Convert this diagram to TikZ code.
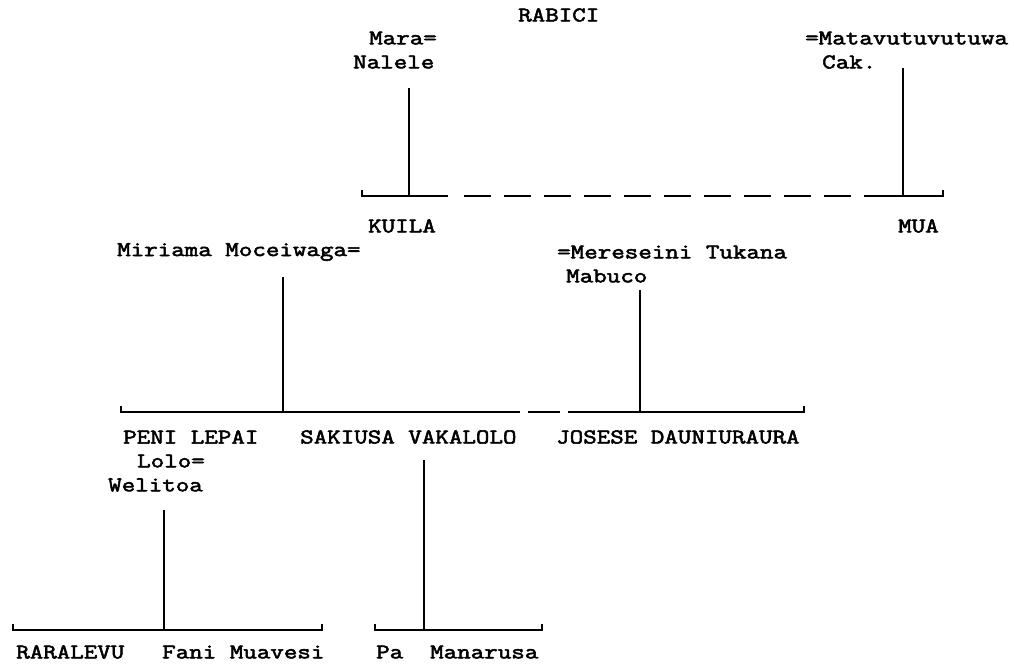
\documentclass[tikz,border=0pt]{standalone}
\usepackage{fontspec}
\newfontfamily\typewriter{Latin Modern Mono}[FakeStretch=1.25,FakeBold=2.6]
\begin{document}
\begin{tikzpicture}[x=1pt,y=-1pt,
  person/.style={anchor=west,inner sep=0pt,font=\typewriter\fontsize{21}{24}\selectfont},
  descent/.style={line width=2.8pt},
  sibline/.style={line width=2.3pt},
  halfline/.style={line width=2.3pt,dash pattern=on 27pt off 13pt}]
\useasboundingbox (0,0) rectangle (1014,667);

% --- generation 1
\node[person] (rabici) at (518,15) {RABICI};
\node[person] (mara)   at (369,38) {Mara=};
\node[person] (nalele) at (353,62) {Nalele};
\node[person] (mata)   at (805,38) {=Matavutuvutuwa};
\node[person] (cak)    at (822,62) {Cak.};

\coordinate (t1a) at (409,88);  \coordinate (j1a) at (409,196);
\coordinate (t1b) at (903,68);  \coordinate (j1b) at (903,196);
\coordinate (b1l) at (362,196); \coordinate (b1r) at (943,196);
\coordinate (d1a) at (448,196); \coordinate (d1b) at (864,196);

\draw[descent] (t1a) -- (j1a);
\draw[descent] (t1b) -- (j1b);
\draw[sibline] ([yshift=6pt]b1l) -- (b1l) -- (d1a);
\draw[halfline] ([xshift=16pt]d1a) -- ([xshift=-13pt]d1b);
\draw[sibline] (d1b) -- (b1r) -- ([yshift=6pt]b1r);

% --- generation 2
\node[person] (kuila) at (368,226) {KUILA};
\node[person] (mua)   at (898,226) {MUA};
\node[person] (miri)  at (117,252) {Miriama Moceiwaga=};
\node[person] (mere)  at (557,252) {=Mereseini Tukana};
\node[person] (mabu)  at (566,276) {Mabuco};

\coordinate (t2a) at (283,277); \coordinate (j2a) at (283,412);
\coordinate (t2b) at (640,290); \coordinate (j2b) at (640,412);
\coordinate (b2l) at (121,412); \coordinate (b2r) at (804,412);
\coordinate (d2a) at (520,412); \coordinate (d2b) at (568,412);

\draw[descent] (t2a) -- (j2a);
\draw[descent] (t2b) -- (j2b);
\draw[sibline] ([yshift=6pt]b2l) -- (b2l) -- (d2a);
\draw[sibline] ([xshift=8pt]d2a) -- ([xshift=-8pt]d2b);
\draw[sibline] (d2b) -- (b2r) -- ([yshift=6pt]b2r);

% --- generation 3
\node[person] (peni) at (123,437) {PENI LEPAI};
\node[person] (saki) at (300,437) {SAKIUSA VAKALOLO};
\node[person] (jose) at (556,437) {JOSESE DAUNIURAURA};
\node[person] (lolo) at (137,461) {Lolo=};
\node[person] (weli) at (108,485) {Welitoa};

\coordinate (t3a) at (164,510); \coordinate (j3a) at (164,630);
\coordinate (t3b) at (424,460); \coordinate (j3b) at (424,630);
\coordinate (b3l) at (13,630);  \coordinate (b3r) at (322,630);
\coordinate (b4l) at (375,630); \coordinate (b4r) at (542,630);

\draw[descent] (t3a) -- (j3a);
\draw[descent] (t3b) -- (j3b);
\draw[sibline] ([yshift=6pt]b3l) -- (b3l) -- (b3r) -- ([yshift=6pt]b3r);
\draw[sibline] ([yshift=6pt]b4l) -- (b4l) -- (b4r) -- ([yshift=6pt]b4r);

% --- generation 4
\node[person] (rara) at (16,652)  {RARALEVU};
\node[person] (fani) at (162,652) {Fani Muavesi};
\node[person] (pa)   at (376,652) {Pa};
\node[person] (mana) at (430,652) {Manarusa};
\end{tikzpicture}
\end{document}
